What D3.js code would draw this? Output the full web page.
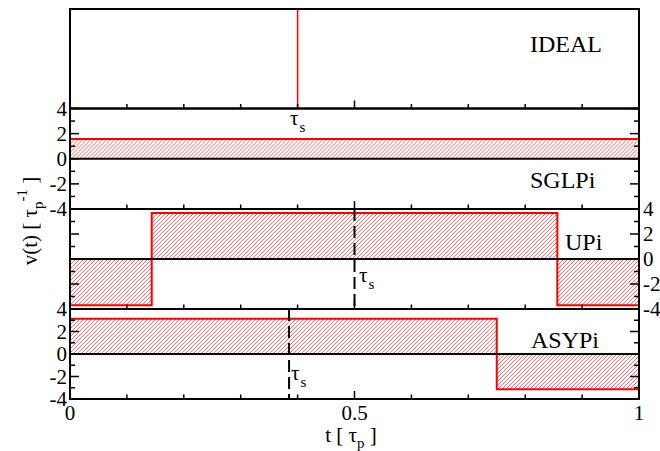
<!DOCTYPE html>
<html>
<head>
<meta charset="utf-8">
<script src="https://cdn.jsdelivr.net/npm/d3@7"></script>
<style>
  body { margin: 0; background: #fff; }
  svg { display: block; }
  text { font-family: "Liberation Serif", "Times New Roman", serif; fill: #000; }
</style>
</head>
<body>
<svg id="chart" width="660" height="451"></svg>
<script>
// ---- data -------------------------------------------------------------
const panelNames = ["IDEAL", "SGLPi", "UPi", "ASYPi"];
const yTickValues = [4, 2, 0, -2, -4];
const yMinorValues = [3, 1, -1, -3];
const xMajorTicks = [0, 0.5, 1];
const xTickLabels = ["0", "0.5", "1"];
const xMinorTicks = [0.1, 0.2, 0.3, 0.4, 0.6, 0.7, 0.8, 0.9];

// piecewise-constant pulses: breakpoints in t, one value per interval
const sglpiBreaks = [0, 1];
const sglpiValues = [1.571];
const upiBreaks = [0, 0.1436, 0.8564, 1];
const upiValues = [-3.69, 3.69, -3.69];
const asypiBreaks = [0, 0.75, 1];
const asypiValues = [3.1416, -3.1416];

// switching times tau_s
const idealPulseTime = 0.4;
const upiSwitchTime = 0.5;
const asypiSwitchTime = 0.385;

// ---- layout -----------------------------------------------------------
const W = 660, H = 451;
const left = 70, right = 639;
const bands = [[9, 108.5], [108.5, 209], [209, 309], [309, 399]];
const red = "#ff0000";

const svg = d3.select("#chart");
svg.append("rect").attr("width", W).attr("height", H).attr("fill", "#fff");
const defs = svg.append("defs");

const x = d3.scaleLinear().domain([0, 1]).range([left, right]);
const yScales = bands.map(b => d3.scaleLinear().domain([-4, 4]).range([b[1], b[0]]));

const series = [
  null,
  { breaks: sglpiBreaks, values: sglpiValues },
  { breaks: upiBreaks, values: upiValues },
  { breaks: asypiBreaks, values: asypiValues }
];

// ---- pulses -----------------------------------------------------------
series.forEach((s, i) => {
  if (!s) return;
  const y = yScales[i];
  const g = svg.append("g");
  const segs = s.values.map((v, k) => ({ t0: s.breaks[k], t1: s.breaks[k + 1], v }));

  // hatched area between the pulse and zero, clipped to the pulse shape
  const clip = defs.append("clipPath").attr("id", "clip" + i);
  clip.selectAll("rect").data(segs).join("rect")
    .attr("x", d => x(d.t0))
    .attr("width", d => x(d.t1) - x(d.t0))
    .attr("y", d => y(Math.max(0, d.v)))
    .attr("height", d => Math.abs(y(d.v) - y(0)));
  const top = bands[i][0], bot = bands[i][1], h = bot - top;
  const offsets = d3.range(left - h, right + 4, 4);
  g.append("g").attr("clip-path", `url(#clip${i})`)
    .selectAll("line").data(offsets).join("line")
    .attr("x1", c => c).attr("y1", bot)
    .attr("x2", c => c + h).attr("y2", top)
    .attr("stroke", red).attr("stroke-width", 0.7).attr("stroke-opacity", 0.85);

  const pts = s.values.map((v, k) => [s.breaks[k], v]);
  pts.push([s.breaks[s.breaks.length - 1], s.values[s.values.length - 1]]);
  g.append("path")
    .attr("d", d3.line().x(d => x(d[0])).y(d => y(d[1])).curve(d3.curveStepAfter)(pts))
    .attr("fill", "none").attr("stroke", red).attr("stroke-width", 2);
  // zero line
  g.append("line")
    .attr("x1", left).attr("x2", right).attr("y1", y(0)).attr("y2", y(0))
    .attr("stroke", "#000").attr("stroke-width", 2);
});

// ideal delta pulse
svg.append("line")
  .attr("x1", x(idealPulseTime)).attr("x2", x(idealPulseTime))
  .attr("y1", bands[0][0]).attr("y2", bands[0][1])
  .attr("stroke", red).attr("stroke-width", 1.5);

// dashed switching-time markers
[[2, upiSwitchTime], [3, asypiSwitchTime]].forEach(([i, t]) => {
  svg.append("line")
    .attr("x1", x(t)).attr("x2", x(t))
    .attr("y1", bands[i][0]).attr("y2", bands[i][1])
    .attr("stroke", "#000").attr("stroke-width", 2)
    .attr("stroke-dasharray", "12,5");
});

// ---- ticks ------------------------------------------------------------
const tickG = svg.append("g").attr("stroke", "#000").attr("stroke-width", 1.5);
bands.forEach((b, i) => {
  const yb = b[1];
  xMajorTicks.forEach(t => tickG.append("line")
    .attr("x1", x(t)).attr("x2", x(t)).attr("y1", yb).attr("y2", yb - 8));
  xMinorTicks.forEach(t => tickG.append("line")
    .attr("x1", x(t)).attr("x2", x(t)).attr("y1", yb).attr("y2", yb - 4.5));
  if (i === 0) return;
  const y = yScales[i];
  yTickValues.forEach(v => {
    tickG.append("line").attr("x1", left).attr("x2", left + 9).attr("y1", y(v)).attr("y2", y(v));
    tickG.append("line").attr("x1", right).attr("x2", right - 9).attr("y1", y(v)).attr("y2", y(v));
  });
  yMinorValues.forEach(v => {
    tickG.append("line").attr("x1", left).attr("x2", left + 5).attr("y1", y(v)).attr("y2", y(v));
    tickG.append("line").attr("x1", right).attr("x2", right - 5).attr("y1", y(v)).attr("y2", y(v));
  });
});

// ---- frames -----------------------------------------------------------
bands.forEach(b => {
  svg.append("rect")
    .attr("x", left).attr("y", b[0])
    .attr("width", right - left).attr("height", b[1] - b[0])
    .attr("fill", "none").attr("stroke", "#000").attr("stroke-width", 2);
});

// ---- tick labels ------------------------------------------------------
const fs = 21;
[1, 3].forEach(i => {
  svg.append("g").selectAll("text").data(yTickValues).join("text")
    .attr("x", left - 3).attr("y", v => yScales[i](v)).attr("dy", "0.35em")
    .attr("text-anchor", "end").attr("font-size", fs)
    .text(v => String(v));
});
svg.append("g").selectAll("text").data(yTickValues).join("text")
  .attr("x", right + 4).attr("y", v => yScales[2](v)).attr("dy", "0.35em")
  .attr("text-anchor", "start").attr("font-size", fs)
  .text(v => String(v));

svg.append("g").selectAll("text").data(xMajorTicks).join("text")
  .attr("x", t => x(t)).attr("y", 420)
  .attr("text-anchor", "middle").attr("font-size", fs)
  .text((t, k) => xTickLabels[k]);

// ---- panel names ------------------------------------------------------
const namePos = [[530, 52], [530, 188], [565, 250], [531, 348]];
panelNames.forEach((n, i) => {
  svg.append("text").attr("x", namePos[i][0]).attr("y", namePos[i][1])
    .attr("font-size", 24).text(n);
});

// ---- tau_s labels -----------------------------------------------------
function tauS(px, py) {
  const t = svg.append("text").attr("x", px).attr("y", py).attr("font-size", fs);
  t.append("tspan").text("τ");
  t.append("tspan").attr("font-size", 15).attr("dy", 7).attr("dx", 1).text("s");
}
tauS(290, 125);
tauS(359, 282);
tauS(291, 380);

// ---- axis titles ------------------------------------------------------
const xt = svg.append("text").attr("x", 351).attr("y", 442)
  .attr("text-anchor", "middle").attr("font-size", fs);
xt.append("tspan").text("t [ τ");
xt.append("tspan").attr("font-size", 15).attr("dy", 6).text("p");
xt.append("tspan").attr("dy", -6).text(" ]");

const yt = svg.append("text")
  .attr("transform", "translate(37,221) rotate(-90)")
  .attr("text-anchor", "middle").attr("font-size", fs);
yt.append("tspan").text("v(t) [ τ");
yt.append("tspan").attr("font-size", 15).attr("dy", 6).text("p");
yt.append("tspan").attr("font-size", 15).attr("dy", -16).text("-1");
yt.append("tspan").attr("dy", 10).text(" ]");
</script>
</body>
</html>
